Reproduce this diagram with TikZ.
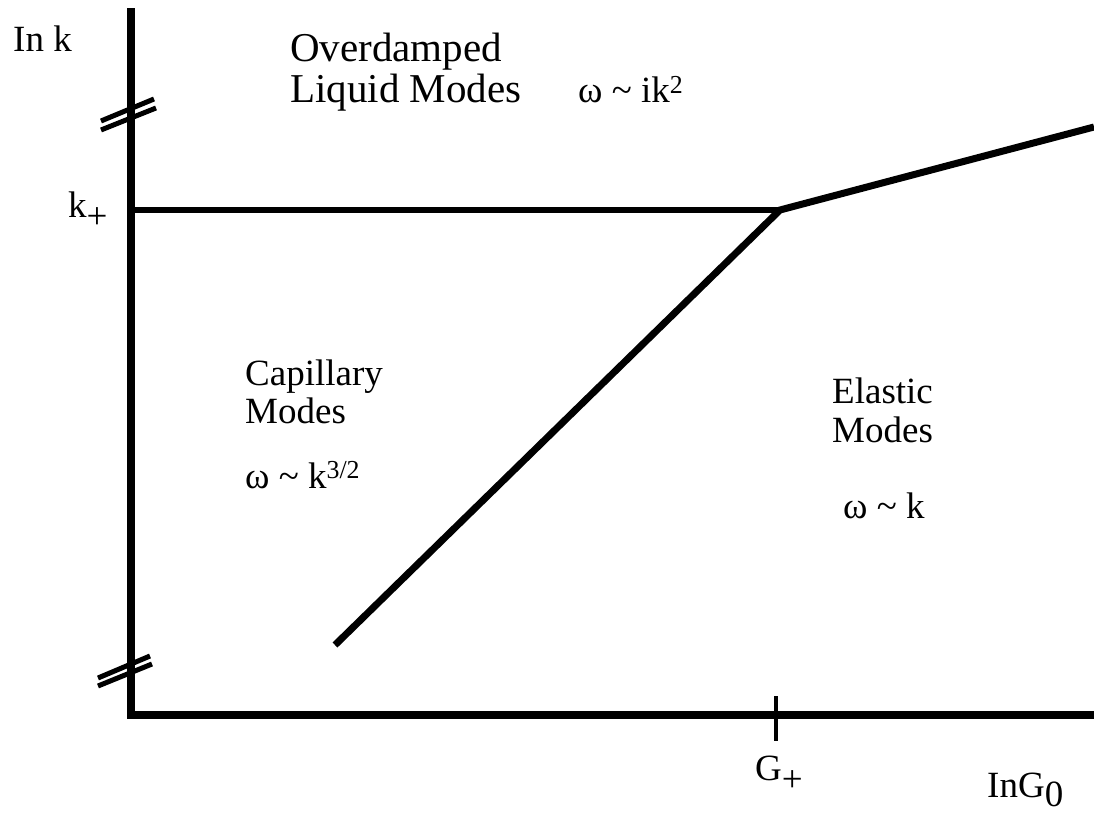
\documentclass[tikz,border=0pt]{standalone}
\usepackage{fontspec}
\setmainfont{Liberation Serif}
\begin{document}
\begin{tikzpicture}[x=1pt,y=-1pt,
  lbl/.style={anchor=base west,inner sep=0pt,font=\fontsize{37}{40}\selectfont},
  biglbl/.style={lbl,font=\fontsize{41}{44}\selectfont},
  axis/.style={line width=8pt},
  bound/.style={line width=7pt},
  brk/.style={line width=5pt},
  tickmark/.style={line width=4pt}]
\useasboundingbox (0,0) rectangle (1094,813);
% coordinates
\coordinate (top) at (131,12);
\coordinate (origin) at (131,715);
\coordinate (xend) at (1094,715);
\coordinate (kp) at (135,210);
\coordinate (knee) at (780,210);
\coordinate (ur) at (1094,127);
\coordinate (dstart) at (335,645);
\coordinate (ttop) at (776,696);
\coordinate (tbot) at (776,741);
\coordinate (b1a) at (101,121); \coordinate (b1b) at (154,99);
\coordinate (b2a) at (101,130); \coordinate (b2b) at (156,108);
\coordinate (b3a) at (98,678); \coordinate (b3b) at (150,656);
\coordinate (b4a) at (98,686); \coordinate (b4b) at (152,664);
% axes
\draw[axis,line cap=rect] (top) -- (origin) -- (xend);
% breaks
\draw[brk] (b1a) -- (b1b);
\draw[brk] (b2a) -- (b2b);
\draw[brk] (b3a) -- (b3b);
\draw[brk] (b4a) -- (b4b);
% boundaries
\draw[line width=6pt] (kp) -- (knee);
\draw[bound] (dstart) -- (knee) -- (ur);
% tick
\draw[tickmark] (ttop) -- (tbot);
% labels
\node[lbl] (lnk) at (13,52) {In k};
\node[lbl] (kplus) at (68,217) {k\raisebox{-0.32em}{+}};
\node[biglbl] (over) at (290,62) {Overdamped};
\node[biglbl] (liq) at (290,103) {Liquid Modes};
\node[lbl] (wliq) at (578,103) {ω \textasciitilde{} ik\textsuperscript{2}};
\node[lbl] (cap) at (245,385) {Capillary};
\node[lbl] (capm) at (245,423) {Modes};
\node[lbl] (wcap) at (245,488) {ω \textasciitilde{} k\textsuperscript{3/2}};
\node[lbl] (ela) at (832,403) {Elastic};
\node[lbl] (elam) at (832,442) {Modes};
\node[lbl] (wela) at (843,518) {ω \textasciitilde{} k};
\node[lbl] (gplus) at (755,780) {G\raisebox{-0.32em}{+}};
\node[lbl] (lng) at (987,797) {InG\raisebox{-0.25em}{0}};
\end{tikzpicture}
\end{document}
